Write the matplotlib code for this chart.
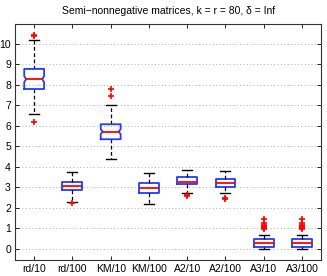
import matplotlib
matplotlib.use("Agg")
import matplotlib.pyplot as plt

plt.rcParams['font.family'] = ['Liberation Sans', 'DejaVu Sans']

labels = ["rd/10", "rd/100", "KM/10", "KM/100", "A2/10", "A2/100", "A3/10", "A3/100"]
medians = [8.28, 3.07, 5.72, 2.96, 3.28, 3.22, 0.29, 0.29]
q1 = [7.80, 2.88, 5.35, 2.75, 3.16, 3.04, 0.11, 0.11]
q3 = [8.78, 3.28, 6.08, 3.20, 3.50, 3.40, 0.47, 0.47]
whislo = [6.57, 2.31, 4.37, 2.18, 2.75, 2.72, -0.02, -0.02]
whishi = [10.20, 3.74, 7.02, 3.72, 3.85, 3.82, 0.68, 0.68]
notch_lo = [8.13, 2.98, 5.60, 2.86, 3.22, 3.13, 0.22, 0.22]
notch_hi = [8.43, 3.16, 5.84, 3.06, 3.34, 3.31, 0.36, 0.36]
fliers = [
    [10.45, 10.38, 6.21],
    [2.23],
    [7.80, 7.48],
    [],
    [2.63, 2.60],
    [2.50, 2.45],
    [0.98, 1.03, 1.08, 1.13, 1.18, 1.25, 1.45],
    [0.98, 1.03, 1.08, 1.13, 1.18, 1.25, 1.45],
]
notched = [True, False, True, False, False, False, False, False]

BLUE = '#1f3cff'
fig = plt.figure(figsize=(3.27, 2.76), dpi=100)
ax = fig.add_axes([0.046, 0.058, 0.936, 0.855])

hw = 0.26   # half box width
ind = 0.05  # notch indent
for i in range(len(labels)):
    x = i + 1
    st = dict(med=medians[i], q1=q1[i], q3=q3[i], whislo=whislo[i], whishi=whishi[i],
              fliers=fliers[i], label=labels[i])
    ax.bxp([st], positions=[x], widths=2 * hw, capwidths=0.26,
           showbox=not notched[i], showmeans=False,
           boxprops=dict(color=BLUE, linewidth=1.3),
           medianprops=dict(color='red', linewidth=1.3,
                            alpha=0 if notched[i] else 1),
           whiskerprops=dict(color='black', linestyle=(0, (3, 2)), linewidth=0.9),
           capprops=dict(color='black', linewidth=1.0),
           flierprops=dict(marker='+', markeredgecolor='red', markersize=4.5, markeredgewidth=1.2),
           manage_ticks=False)
    if notched[i]:
        xs = [x - hw, x + hw, x + hw, x + hw - ind, x + hw, x + hw,
              x - hw, x - hw, x - hw + ind, x - hw, x - hw]
        ys = [q1[i], q1[i], notch_lo[i], medians[i], notch_hi[i], q3[i],
              q3[i], notch_hi[i], medians[i], notch_lo[i], q1[i]]
        ax.plot(xs, ys, color=BLUE, linewidth=1.3, zorder=3)
        ax.plot([x - hw + ind, x + hw - ind], [medians[i], medians[i]],
                color='red', linewidth=1.3, zorder=3)

ax.set_xlim(0.5, 8.5)
ax.set_ylim(-0.54, 10.97)
ax.set_xticks(range(1, 9))
ax.set_xticklabels(labels)
ax.set_yticks(range(0, 11))
ax.yaxis.grid(True, linestyle=(0, (1, 2.5)), color='#b0b0b0', linewidth=0.7)
ax.set_axisbelow(True)
ax.tick_params(direction='in', length=3, width=0.6, labelsize=7.5, top=True, right=True, pad=3)
ax.tick_params(axis='x', pad=3)
for s in ax.spines.values():
    s.set_linewidth(0.8)
    s.set_color('#333333')
ax.set_title("Semi\u2212nonnegative matrices, k = r = 80, \u03b4 = Inf", fontsize=7.5, pad=7)

fig.savefig("out.png", dpi=100)
